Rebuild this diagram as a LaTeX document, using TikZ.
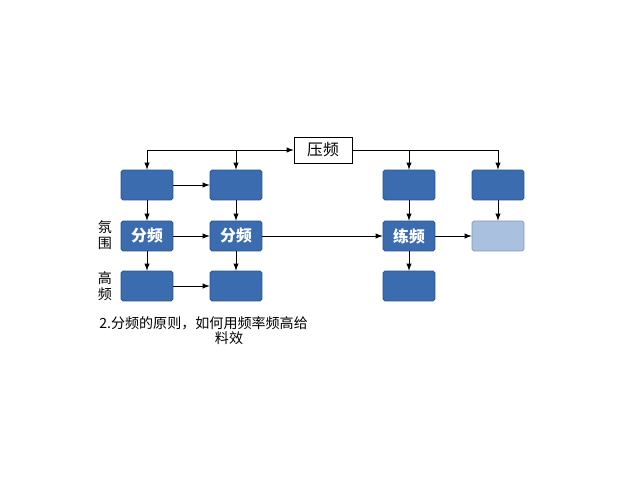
\documentclass[tikz,border=0pt]{standalone}
\usepackage{fontspec}
\newfontfamily\cjk{Noto Sans CJK SC}
\usetikzlibrary{positioning}
\definecolor{boxblue}{HTML}{3B6CB0}
\definecolor{boxedge}{HTML}{274F88}
\definecolor{boxlight}{HTML}{A9C1DE}
\tikzset{
 blk/.style={draw=boxedge,fill=boxblue,rounded corners=1pt,minimum width=1.04cm,minimum height=0.6cm,text=white,font=\cjk\bfseries\small,inner sep=0pt},
 lite/.style={blk,fill=boxlight,draw=boxedge!60},
 lbl/.style={font=\cjk\footnotesize,inner sep=0pt},
 arr/.style={-latex,thin}
}
\begin{document}
\begin{tikzpicture}[x=0.02cm,y=-0.02cm]
 \useasboundingbox (0,0) rectangle (640,480);
 % top
 \node[draw,fill=white,minimum width=1.16cm,minimum height=0.52cm,font=\cjk\small,inner sep=0pt] (top) at (323,150) {压频};
 % rows of blocks
 \node[blk] (a1) at (147,185) {};
 \node[blk] (b1) at (236,185) {};
 \node[blk] (c1) at (409,185) {};
 \node[blk] (d1) at (498,185) {};
 \node[blk] (a2) at (147,236) {分频};
 \node[blk] (b2) at (236,236) {分频};
 \node[blk] (c2) at (409,236) {练频};
 \node[lite] (d2) at (498,236) {};
 \node[blk] (a3) at (147,286) {};
 \node[blk] (b3) at (236,286) {};
 \node[blk] (c3) at (409,286) {};
 % top bus
 \coordinate (ta) at (147,150);
 \coordinate (tb) at (236,150);
 \coordinate (tc) at (409,150);
 \coordinate (td) at (498,150);
 \draw[arr] (ta) -- (top.west);
 \draw (top.east) -- (td);
 \foreach \t/\n in {ta/a1,tb/b1,tc/c1,td/d1} \draw[arr] (\t) -- (\n);
 % connectors
 \draw[arr] (a1) -- (b1);
 \draw[arr] (a2) -- (b2);
 \draw[arr] (b2) -- (c2);
 \draw[arr] (c2) -- (d2);
 \draw[arr] (a3) -- (b3);
 \foreach \c in {a,b,c} \draw[arr] (\c2) -- (\c3);
 \foreach \c in {a,b,c,d} \draw[arr] (\c1) -- (\c2);
 % side labels
 \node[lbl] (l1) at (105,227) {氛};
 \node[lbl] (l2) at (105,243) {围};
 \node[lbl] (l3) at (105,278) {高};
 \node[lbl] (l4) at (105,294) {频};
 % caption
 \node[lbl,anchor=west] (cap1) at (99,323) {2.分频的原则，如何用频率频高给};
 \node[lbl] (cap2) at (229,338) {料效};
\end{tikzpicture}
\end{document}
